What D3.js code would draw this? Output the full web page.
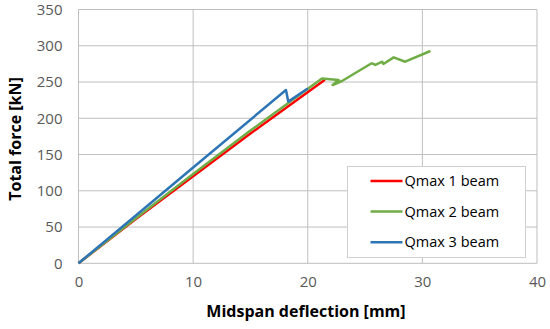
<!DOCTYPE html>
<html>
<head>
<meta charset="utf-8">
<script src="https://cdn.jsdelivr.net/npm/d3@7"></script>
<style>
  body { margin: 0; background: #fff; }
  svg { font-family: "Open Sans", "Liberation Sans", sans-serif; }
</style>
</head>
<body>
<svg id="chart" width="550" height="329"></svg>
<script>
// deflection [mm], force [kN]
var beam1 = [[0, 0], [5, 61], [10, 120], [15, 179], [21.5, 253]];
var beam2 = [[0, 0], [5, 62], [10, 123], [15, 183], [21.24, 255], [22.69, 252.8], [22.17, 245.9],
    [22.99, 251.4], [25.46, 274.9], [25.6, 275.8], [25.9, 273.5], [26.5, 278], [26.6, 274.9],
    [27.5, 284], [28.5, 278], [30.7, 292.8]];
var beam3 = [[0, 0], [5, 66], [10, 132], [18.1, 239], [18.3, 223], [20.0, 241]];

var seriesNames = ["Qmax 1 beam", "Qmax 2 beam", "Qmax 3 beam"];
var seriesColors = ["#ff0000", "#70ad47", "#2e75b6"];
var xTicks = [0, 10, 20, 30, 40];
var yTicks = [0, 50, 100, 150, 200, 250, 300, 350];

var svg = d3.select("#chart");
var margin = {left: 78.5, right: 13, top: 9.5, bottom: 65.7};
var width = 550 - margin.left - margin.right;
var height = 329 - margin.top - margin.bottom;

var x = d3.scaleLinear().domain([0, 40]).range([0, width]);
var y = d3.scaleLinear().domain([0, 350]).range([height, 0]);

var g = svg.append("g").attr("transform", "translate(" + margin.left + "," + margin.top + ")");

// grid
g.selectAll("line.hgrid").data(yTicks).enter().append("line")
    .attr("class", "hgrid")
    .attr("x1", 0).attr("x2", width)
    .attr("y1", d => y(d)).attr("y2", d => y(d))
    .attr("stroke", "#bfbfbf").attr("stroke-width", 1);

g.selectAll("line.vgrid").data(xTicks).enter().append("line")
    .attr("class", "vgrid")
    .attr("y1", 0).attr("y2", height)
    .attr("x1", d => x(d)).attr("x2", d => x(d))
    .attr("stroke", "#bfbfbf").attr("stroke-width", 1);

// axes (labels only)
var yAxis = g.append("g").call(d3.axisLeft(y).tickValues(yTicks).tickSize(0).tickPadding(16));
var xAxis = g.append("g").attr("transform", "translate(0," + height + ")")
    .call(d3.axisBottom(x).tickValues(xTicks).tickSize(0).tickPadding(13));
[yAxis, xAxis].forEach(function (a) {
    a.select(".domain").remove();
    a.selectAll("text").attr("fill", "#595959").style("font-size", "15px")
        .style("font-family", "'Open Sans', sans-serif");
});

// lines
var line = d3.line().x(d => x(d[0])).y(d => y(d[1]));
[beam1, beam2, beam3].forEach(function (s, i) {
    g.append("path")
        .attr("fill", "none")
        .attr("stroke", seriesColors[i])
        .attr("stroke-width", 2.5)
        .attr("stroke-linejoin", "round")
        .attr("d", line(s));
});

// axis titles
svg.append("text")
    .attr("x", 306).attr("y", 317)
    .attr("text-anchor", "middle")
    .style("font-size", "16px").style("font-weight", "bold")
    .attr("fill", "#000")
    .text("Midspan deflection [mm]");

svg.append("text")
    .attr("transform", "translate(21,139) rotate(-90)")
    .attr("text-anchor", "middle")
    .style("font-size", "16px").style("font-weight", "bold")
    .attr("fill", "#000")
    .text("Total force [kN]");

// legend
var legend = svg.append("g").attr("transform", "translate(347.5,166.5)");
legend.append("rect")
    .attr("width", 178).attr("height", 91)
    .attr("fill", "#fff").attr("stroke", "#d0d0d0");

var items = legend.selectAll("g.item").data(seriesNames).enter().append("g")
    .attr("class", "item")
    .attr("transform", (d, i) => "translate(0," + (14.5 + i * 30.6) + ")");
items.append("line")
    .attr("x1", 23).attr("x2", 55)
    .attr("stroke", (d, i) => seriesColors[i]).attr("stroke-width", 2.5);
items.append("text")
    .attr("x", 57).attr("dy", "0.35em")
    .style("font-size", "14.5px").attr("fill", "#000")
    .text(d => d);
</script>
</body>
</html>
